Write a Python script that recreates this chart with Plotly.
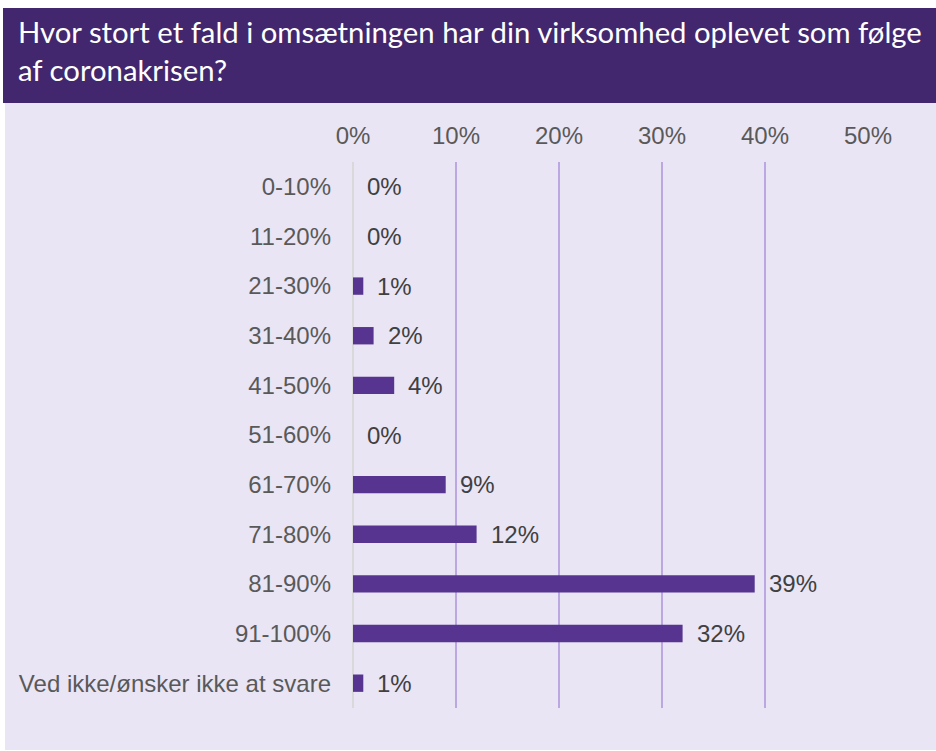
import plotly.graph_objects as go

# data
categories = [
    "0-10%", "11-20%", "21-30%", "31-40%", "41-50%", "51-60%",
    "61-70%", "71-80%", "81-90%", "91-100%", "Ved ikke/ønsker ikke at svare",
]
values = [0, 0, 1, 2, 4, 0, 9, 12, 39, 32, 1]
tick_values = [0, 10, 20, 30, 40, 50]
tick_labels = ["0%", "10%", "20%", "30%", "40%", "50%"]
title_text = ("Hvor stort et fald i omsætningen har din virksomhed oplevet som følge"
              "<br>af coronakrisen?")

W, H = 936, 751
ML, MR, MT, MB = 353, 68, 162, 43
PW, PH = W - ML - MR, H - MT - MB


def px(x):
    return (x - ML) / PW


def py(y):
    return 1 - (y - MT) / PH


BG = "#E9E5F4"
HEAD = "#42276E"
BAR = "#56348F"
GRID = "#BBA8E3"
TXT = "#595959"
FONT = "Liberation Sans"

fig = go.Figure()
fig.add_trace(go.Bar(
    x=values,
    y=categories,
    orientation="h",
    marker={"color": BAR, "line": {"width": 0}},
    width=0.35,
    hoverinfo="skip",
))

annotations = []
for cat, val in zip(categories, values):
    annotations.append({
        "x": val, "y": cat, "xref": "x", "yref": "y",
        "text": f"{val}%", "showarrow": False,
        "xanchor": "left", "xshift": 12,
        "font": {"family": FONT, "size": 24, "color": "#404040"},
    })

annotations.append({
    "x": px(16), "y": py(12), "xref": "paper", "yref": "paper",
    "xanchor": "left", "yanchor": "top", "align": "left",
    "text": title_text, "showarrow": False,
    "font": {"family": "Lato", "size": 29.3, "color": "white"},
})

shapes = [
    # white frame
    {"type": "rect", "xref": "paper", "yref": "paper", "layer": "below",
     "x0": px(0), "x1": px(W), "y0": py(0), "y1": py(H),
     "fillcolor": "white", "line": {"width": 0}},
    {"type": "rect", "xref": "paper", "yref": "paper", "layer": "below",
     "x0": px(5), "x1": px(W), "y0": py(103), "y1": py(750),
     "fillcolor": BG, "line": {"width": 0}},
    {"type": "rect", "xref": "paper", "yref": "paper", "layer": "below",
     "x0": px(3), "x1": px(W), "y0": py(8), "y1": py(103),
     "fillcolor": HEAD, "line": {"width": 0}},
]

fig.update_layout(
    width=W, height=H,
    margin={"l": ML, "r": MR, "t": MT, "b": MB, "pad": 0},
    paper_bgcolor="white",
    plot_bgcolor=BG,
    showlegend=False,
    bargap=0.65,
    shapes=shapes,
    annotations=annotations,
    font={"family": FONT, "color": TXT, "size": 24},
)
fig.update_xaxes(
    range=[0, 50], side="top",
    tickvals=tick_values, ticktext=tick_labels,
    showgrid=True, gridcolor=GRID, gridwidth=2,
    zeroline=True, zerolinecolor="#D9D9D9", zerolinewidth=2,
    showline=False, ticks="", ticklabelstandoff=12,
    tickfont={"family": FONT, "size": 24, "color": TXT},
    fixedrange=True,
)
fig.update_yaxes(
    categoryorder="array", categoryarray=categories, autorange="reversed",
    showgrid=False, zeroline=False, showline=False, ticks="",
    ticklabelstandoff=21,
    tickfont={"family": FONT, "size": 24, "color": TXT},
    fixedrange=True,
)

fig.write_html(
    "out.html",
    config={"displayModeBar": False},
    post_script="document.body.style.margin='0';",
)
